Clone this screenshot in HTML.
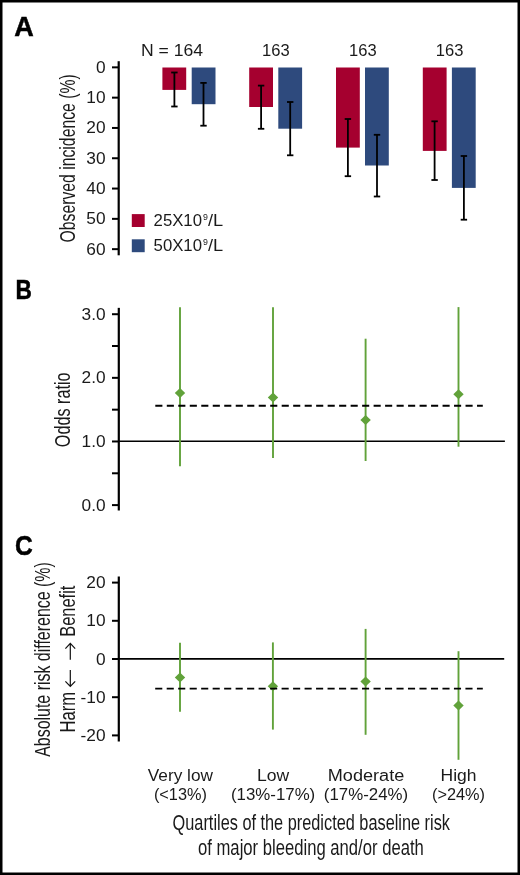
<!DOCTYPE html>
<html><head><meta charset="utf-8"><style>
html,body{margin:0;padding:0;background:#fff;}
body{width:520px;height:875px;overflow:hidden;}
svg{display:block;will-change:transform;}
text{font-family:"Liberation Sans", sans-serif;fill:#1a1a1a;}
.tk{font-size:17.3px;}
.tt{font-size:21.7px;}
.sup{font-size:8.8px;}
.pl{font-size:27px;font-weight:bold;fill:#000;stroke:#000;stroke-width:0.5px;}
</style></head><body>
<svg width="520" height="875" viewBox="0 0 520 875">
<rect x="0" y="0" width="520" height="875" fill="#fff"/>
<line x1="118.7" y1="61.2" x2="118.7" y2="255.3" stroke="#000" stroke-width="2.2"/>
<line x1="112" y1="67.35" x2="118.7" y2="67.35" stroke="#000" stroke-width="2"/>
<text x="105.6" y="72.85" class="tk" text-anchor="end">0</text>
<line x1="112" y1="97.65" x2="118.7" y2="97.65" stroke="#000" stroke-width="2"/>
<text x="105.6" y="103.15" class="tk" text-anchor="end">10</text>
<line x1="112" y1="127.95" x2="118.7" y2="127.95" stroke="#000" stroke-width="2"/>
<text x="105.6" y="133.45" class="tk" text-anchor="end">20</text>
<line x1="112" y1="158.25" x2="118.7" y2="158.25" stroke="#000" stroke-width="2"/>
<text x="105.6" y="163.75" class="tk" text-anchor="end">30</text>
<line x1="112" y1="188.55" x2="118.7" y2="188.55" stroke="#000" stroke-width="2"/>
<text x="105.6" y="194.05" class="tk" text-anchor="end">40</text>
<line x1="112" y1="218.85" x2="118.7" y2="218.85" stroke="#000" stroke-width="2"/>
<text x="105.6" y="224.35" class="tk" text-anchor="end">50</text>
<line x1="112" y1="249.15" x2="118.7" y2="249.15" stroke="#000" stroke-width="2"/>
<text x="105.6" y="254.65" class="tk" text-anchor="end">60</text>
<text class="tt" transform="translate(74.8,158.4) rotate(-90)" text-anchor="middle" textLength="168.2" lengthAdjust="spacingAndGlyphs">Observed incidence (%)</text>
<rect x="162.4" y="67.5" width="23.8" height="22.40" fill="#a5002f"/>
<rect x="191.7" y="67.5" width="23.8" height="36.70" fill="#2e4a7d"/>
<line x1="174.4" y1="72.5" x2="174.4" y2="106.5" stroke="#000" stroke-width="1.8"/>
<line x1="171.20" y1="72.5" x2="177.60" y2="72.5" stroke="#000" stroke-width="1.8"/>
<line x1="171.20" y1="106.5" x2="177.60" y2="106.5" stroke="#000" stroke-width="1.8"/>
<line x1="203.5" y1="82.9" x2="203.5" y2="125.7" stroke="#000" stroke-width="1.8"/>
<line x1="200.30" y1="82.9" x2="206.70" y2="82.9" stroke="#000" stroke-width="1.8"/>
<line x1="200.30" y1="125.7" x2="206.70" y2="125.7" stroke="#000" stroke-width="1.8"/>
<rect x="249.2" y="67.5" width="23.8" height="39.50" fill="#a5002f"/>
<rect x="278.3" y="67.5" width="23.8" height="61.20" fill="#2e4a7d"/>
<line x1="261.1" y1="85.6" x2="261.1" y2="128.8" stroke="#000" stroke-width="1.8"/>
<line x1="257.90" y1="85.6" x2="264.30" y2="85.6" stroke="#000" stroke-width="1.8"/>
<line x1="257.90" y1="128.8" x2="264.30" y2="128.8" stroke="#000" stroke-width="1.8"/>
<line x1="290.2" y1="102.0" x2="290.2" y2="155.3" stroke="#000" stroke-width="1.8"/>
<line x1="287.00" y1="102.0" x2="293.40" y2="102.0" stroke="#000" stroke-width="1.8"/>
<line x1="287.00" y1="155.3" x2="293.40" y2="155.3" stroke="#000" stroke-width="1.8"/>
<rect x="336.0" y="67.5" width="23.8" height="80.10" fill="#a5002f"/>
<rect x="365.0" y="67.5" width="23.8" height="98.00" fill="#2e4a7d"/>
<line x1="347.9" y1="119.0" x2="347.9" y2="176.2" stroke="#000" stroke-width="1.8"/>
<line x1="344.70" y1="119.0" x2="351.10" y2="119.0" stroke="#000" stroke-width="1.8"/>
<line x1="344.70" y1="176.2" x2="351.10" y2="176.2" stroke="#000" stroke-width="1.8"/>
<line x1="377.0" y1="134.8" x2="377.0" y2="196.5" stroke="#000" stroke-width="1.8"/>
<line x1="373.80" y1="134.8" x2="380.20" y2="134.8" stroke="#000" stroke-width="1.8"/>
<line x1="373.80" y1="196.5" x2="380.20" y2="196.5" stroke="#000" stroke-width="1.8"/>
<rect x="422.8" y="67.5" width="23.8" height="83.40" fill="#a5002f"/>
<rect x="451.9" y="67.5" width="23.8" height="120.40" fill="#2e4a7d"/>
<line x1="434.6" y1="121.3" x2="434.6" y2="180.0" stroke="#000" stroke-width="1.8"/>
<line x1="431.40" y1="121.3" x2="437.80" y2="121.3" stroke="#000" stroke-width="1.8"/>
<line x1="431.40" y1="180.0" x2="437.80" y2="180.0" stroke="#000" stroke-width="1.8"/>
<line x1="463.9" y1="156.0" x2="463.9" y2="219.7" stroke="#000" stroke-width="1.8"/>
<line x1="460.70" y1="156.0" x2="467.10" y2="156.0" stroke="#000" stroke-width="1.8"/>
<line x1="460.70" y1="219.7" x2="467.10" y2="219.7" stroke="#000" stroke-width="1.8"/>
<text x="141" y="56.4" class="tk" textLength="62" lengthAdjust="spacingAndGlyphs">N = 164</text>
<text x="275.9" y="56.4" class="tk" text-anchor="middle" textLength="27.6" lengthAdjust="spacingAndGlyphs">163</text>
<text x="362.9" y="56.4" class="tk" text-anchor="middle" textLength="27.6" lengthAdjust="spacingAndGlyphs">163</text>
<text x="449.6" y="56.4" class="tk" text-anchor="middle" textLength="27.6" lengthAdjust="spacingAndGlyphs">163</text>
<rect x="131.8" y="214.1" width="12.9" height="12.9" fill="#a5002f"/>
<rect x="131.8" y="239.3" width="12.9" height="12.9" fill="#2e4a7d"/>
<text x="153.6" y="225.9" class="tk" textLength="48.4" lengthAdjust="spacingAndGlyphs">25X10</text>
<text x="203.1" y="219.5" class="sup">9</text>
<text x="207.9" y="225.9" class="tk" textLength="15.2" lengthAdjust="spacingAndGlyphs">/L</text>
<text x="153.6" y="251.1" class="tk" textLength="48.4" lengthAdjust="spacingAndGlyphs">50X10</text>
<text x="203.1" y="244.7" class="sup">9</text>
<text x="207.9" y="251.1" class="tk" textLength="15.2" lengthAdjust="spacingAndGlyphs">/L</text>
<text x="14.3" y="36.2" class="pl">A</text>
<text class="pl" transform="translate(15.5,298.8) scale(0.84,1)">B</text>
<text class="pl" transform="translate(14.9,554.6) scale(0.91,1)">C</text>
<line x1="118.8" y1="307.85" x2="118.8" y2="510.5" stroke="#000" stroke-width="2.2"/>
<line x1="112" y1="505.10" x2="118.8" y2="505.10" stroke="#000" stroke-width="2"/>
<text x="105.6" y="510.60" class="tk" text-anchor="end">0.0</text>
<line x1="112" y1="473.29" x2="118.8" y2="473.29" stroke="#000" stroke-width="2"/>
<line x1="112" y1="441.47" x2="118.8" y2="441.47" stroke="#000" stroke-width="2"/>
<text x="105.6" y="446.97" class="tk" text-anchor="end">1.0</text>
<line x1="112" y1="409.66" x2="118.8" y2="409.66" stroke="#000" stroke-width="2"/>
<line x1="112" y1="377.84" x2="118.8" y2="377.84" stroke="#000" stroke-width="2"/>
<text x="105.6" y="383.34" class="tk" text-anchor="end">2.0</text>
<line x1="112" y1="346.02" x2="118.8" y2="346.02" stroke="#000" stroke-width="2"/>
<line x1="112" y1="314.21" x2="118.8" y2="314.21" stroke="#000" stroke-width="2"/>
<text x="105.6" y="319.71" class="tk" text-anchor="end">3.0</text>
<text class="tt" transform="translate(70.2,409.8) rotate(-90)" text-anchor="middle" textLength="74.8" lengthAdjust="spacingAndGlyphs">Odds ratio</text>
<line x1="118.8" y1="441.2" x2="504.9" y2="441.2" stroke="#000" stroke-width="1.6"/>
<line x1="180" y1="307.2" x2="180" y2="466.2" stroke="#61a23a" stroke-width="1.9"/>
<path d="M174.80 393.0 L180 388.00 L185.20 393.0 L180 398.00 Z" fill="#61a23a"/>
<line x1="273" y1="307.2" x2="273" y2="458.1" stroke="#61a23a" stroke-width="1.9"/>
<path d="M267.80 397.5 L273 392.50 L278.20 397.5 L273 402.50 Z" fill="#61a23a"/>
<line x1="365.6" y1="338.7" x2="365.6" y2="461.0" stroke="#61a23a" stroke-width="1.9"/>
<path d="M360.40 420.0 L365.6 415.00 L370.80 420.0 L365.6 425.00 Z" fill="#61a23a"/>
<line x1="458.5" y1="307.1" x2="458.5" y2="446.7" stroke="#61a23a" stroke-width="1.9"/>
<path d="M453.30 394.2 L458.5 389.20 L463.70 394.2 L458.5 399.20 Z" fill="#61a23a"/>
<line x1="155.3" y1="405.8" x2="482.8" y2="405.8" stroke="#000" stroke-width="1.9" stroke-dasharray="7.1 4.39"/>
<line x1="118.8" y1="576.5" x2="118.8" y2="741.5" stroke="#000" stroke-width="2.2"/>
<line x1="112" y1="582.60" x2="118.8" y2="582.60" stroke="#000" stroke-width="2"/>
<text x="105.6" y="588.10" class="tk" text-anchor="end">20</text>
<line x1="112" y1="620.80" x2="118.8" y2="620.80" stroke="#000" stroke-width="2"/>
<text x="105.6" y="626.30" class="tk" text-anchor="end">10</text>
<line x1="112" y1="659.00" x2="118.8" y2="659.00" stroke="#000" stroke-width="2"/>
<text x="105.6" y="664.50" class="tk" text-anchor="end">0</text>
<line x1="112" y1="697.20" x2="118.8" y2="697.20" stroke="#000" stroke-width="2"/>
<text x="105.6" y="702.70" class="tk" text-anchor="end">-10</text>
<line x1="112" y1="735.40" x2="118.8" y2="735.40" stroke="#000" stroke-width="2"/>
<text x="105.6" y="740.90" class="tk" text-anchor="end">-20</text>
<text class="tt" transform="translate(50.2,659.5) rotate(-90)" text-anchor="middle" textLength="194.7" lengthAdjust="spacingAndGlyphs">Absolute risk difference (%)</text>
<text class="tt" transform="translate(74.9,732.5) rotate(-90)" textLength="40.6" lengthAdjust="spacingAndGlyphs">Harm</text>
<text class="tt" transform="translate(74.8,636.8) rotate(-90)" textLength="51.2" lengthAdjust="spacingAndGlyphs">Benefit</text>
<path d="M70.3 659.7 V643.6 M65.4 648.6 L70.3 643.4 L75.2 648.6" fill="none" stroke="#111" stroke-width="1.2"/>
<path d="M70.3 670.1 V686.3 M65.4 681.3 L70.3 686.5 L75.2 681.3" fill="none" stroke="#111" stroke-width="1.2"/>
<line x1="118.8" y1="658.9" x2="504.2" y2="658.9" stroke="#000" stroke-width="1.6"/>
<line x1="180" y1="642.7" x2="180" y2="711.7" stroke="#61a23a" stroke-width="1.9"/>
<path d="M174.80 677.4 L180 672.40 L185.20 677.4 L180 682.40 Z" fill="#61a23a"/>
<line x1="272.9" y1="642.4" x2="272.9" y2="729.6" stroke="#61a23a" stroke-width="1.9"/>
<path d="M267.70 686.2 L272.9 681.20 L278.10 686.2 L272.9 691.20 Z" fill="#61a23a"/>
<line x1="365.6" y1="628.9" x2="365.6" y2="734.8" stroke="#61a23a" stroke-width="1.9"/>
<path d="M360.40 681.6 L365.6 676.60 L370.80 681.6 L365.6 686.60 Z" fill="#61a23a"/>
<line x1="458.5" y1="651.2" x2="458.5" y2="759.8" stroke="#61a23a" stroke-width="1.9"/>
<path d="M453.30 705.5 L458.5 700.50 L463.70 705.5 L458.5 710.50 Z" fill="#61a23a"/>
<line x1="155.2" y1="688.6" x2="482.8" y2="688.6" stroke="#000" stroke-width="1.9" stroke-dasharray="7.1 4.39"/>
<text x="180.4" y="781.2" class="tk" text-anchor="middle" textLength="65.2" lengthAdjust="spacingAndGlyphs">Very low</text>
<text x="180.4" y="800.3" class="tk" text-anchor="middle" textLength="53.0" lengthAdjust="spacingAndGlyphs">(&lt;13%)</text>
<text x="273.1" y="781.2" class="tk" text-anchor="middle" textLength="32.2" lengthAdjust="spacingAndGlyphs">Low</text>
<text x="273.1" y="800.3" class="tk" text-anchor="middle" textLength="84.3" lengthAdjust="spacingAndGlyphs">(13%-17%)</text>
<text x="366" y="781.2" class="tk" text-anchor="middle" textLength="76.5" lengthAdjust="spacingAndGlyphs">Moderate</text>
<text x="366" y="800.3" class="tk" text-anchor="middle" textLength="84.3" lengthAdjust="spacingAndGlyphs">(17%-24%)</text>
<text x="458.5" y="781.2" class="tk" text-anchor="middle" textLength="36.0" lengthAdjust="spacingAndGlyphs">High</text>
<text x="458.5" y="800.3" class="tk" text-anchor="middle" textLength="53.0" lengthAdjust="spacingAndGlyphs">(&gt;24%)</text>
<text x="311.3" y="830" class="tt" text-anchor="middle" textLength="277.4" lengthAdjust="spacingAndGlyphs">Quartiles of the predicted baseline risk</text>
<text x="310.9" y="854.6" class="tt" text-anchor="middle" textLength="225.8" lengthAdjust="spacingAndGlyphs">of major bleeding and/or death</text>
<rect x="1.25" y="1.25" width="517.5" height="872.5" fill="none" stroke="#000" stroke-width="2.5"/>
</svg>
</body></html>
